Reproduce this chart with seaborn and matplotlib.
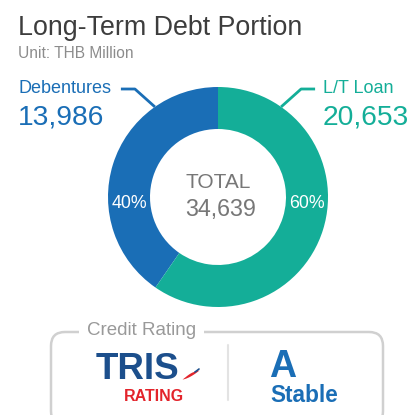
import matplotlib
matplotlib.use("Agg")
import matplotlib.pyplot as plt
import seaborn as sns
from matplotlib.patches import FancyBboxPatch
import numpy as np

# data
labels = ["Debentures", "L/T Loan"]
values = [13986, 20653]
colors = ["#1a6eb6", "#14ae98"]
total = sum(values)
rating = "A"
outlook = "Stable"

sns.set_theme(style="white")
plt.rcParams['font.family'] = ['Liberation Sans', 'DejaVu Sans']

W, H = 411, 415
fig = plt.figure(figsize=(W / 100, H / 100), dpi=100)
ax = fig.add_axes([0, 0, 1, 1])

def Y(y):
    return H - y

cx, cy = 218, Y(197)
R, r = 110, 68

wedges, _ = ax.pie(values, colors=colors, startangle=90, counterclock=True,
                   center=(cx, cy), radius=R,
                   wedgeprops=dict(width=R - r, linewidth=0))
ax.set_xlim(0, W)
ax.set_ylim(0, H)
ax.set_aspect('equal')
ax.axis('off')

# title
ax.text(18, Y(35), "Long-Term Debt Portion", fontsize=19.3, color="#3d3d3d", va="baseline")
ax.text(18, Y(58), "Unit: THB Million", fontsize=11.2, color="#8c8c8c", va="baseline")

# centre total
ax.text(cx, Y(188), "TOTAL", fontsize=15, color="#777777", ha="center", va="baseline")
ax.text(cx + 3, Y(216), f"{total:,}", fontsize=16.8, color="#777777", ha="center", va="baseline")

# percentages
for i, v in enumerate(values):
    side = -1 if i == 0 else 1
    ax.text(cx + side * 89, cy - 6, f"{v / total:.0%}", fontsize=12.8, color="white",
            ha="center", va="center")

# side labels with leader lines
for i, (lab, v) in enumerate(zip(labels, values)):
    side = -1 if i == 0 else 1
    ang = np.deg2rad(90 - side * 35)
    px, py = cx + R * np.cos(ang), cy + R * np.sin(ang)
    ex, ey = px + side * 20, Y(89)
    hx = ex + side * 14
    ax.plot([px, ex, hx], [py, ey, ey], color=colors[i], lw=2, solid_capstyle="butt")
    tx = 18 if i == 0 else 323
    ax.text(tx, Y(93), lab, fontsize=13, color=colors[i], va="baseline")
    ax.text(tx, Y(125), f"{v:,}", fontsize=20.3, color=colors[i], va="baseline")

# credit rating box
box = FancyBboxPatch((51, Y(425)), 332, 425 - 332,
                     boxstyle="round,pad=0,rounding_size=14",
                     fc="white", ec="#d0d0d0", lw=1.8)
ax.add_patch(box)
ax.text(87, Y(335), "Credit Rating", fontsize=13.5, color="#999999", va="baseline",
        bbox=dict(fc="white", ec="none", pad=6))
ax.plot([228, 228], [Y(345), Y(400)], color="#e3e3e3", lw=1.5)

ax.text(96, Y(379), "TRIS", fontsize=26.5, fontweight="bold", color="#1c4f8c", va="baseline")
ax.text(124, Y(401), "RATING", fontsize=11.5, fontweight="bold", color="#e3242b", va="baseline")
t = np.linspace(0, 1, 30)
sx = 182 + 17 * t
sy = Y(379 - 9 * t ** 1.5)
ax.fill_between(sx, sy, sy + 3 * np.sin(np.pi * t), color="#e3242b", lw=0)
ax.plot(sx[-8:], sy[-8:] + 1, color="#1c4f8c", lw=1.2)

ax.text(269, Y(377), rating, fontsize=27, fontweight="bold", color="#1a6eb6", va="baseline")
ax.text(270, Y(402), outlook, fontsize=16.3, fontweight="bold", color="#1a6eb6", va="baseline")

fig.savefig("out.png", dpi=100, facecolor="white")
